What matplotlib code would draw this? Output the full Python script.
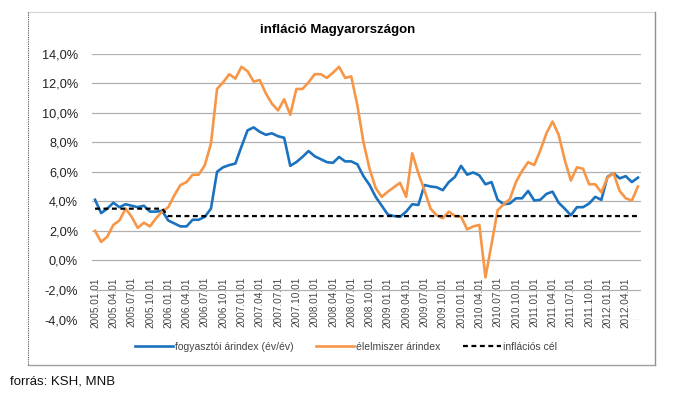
import matplotlib
matplotlib.use("Agg")
import matplotlib.pyplot as plt
from matplotlib.lines import Line2D
import numpy as np

plt.rcParams['font.family'] = ['Liberation Sans', 'DejaVu Sans']

# ---- data ----
years = list(range(2005, 2013))
months = [f"{y}.{m:02d}.01" for y in years for m in range(1, 13)][:90]

cpi = [4.1, 3.2, 3.5, 3.9, 3.6, 3.8, 3.7, 3.6, 3.7, 3.3, 3.3, 3.35,
       2.7, 2.5, 2.3, 2.3, 2.75, 2.75, 2.95, 3.5, 6.0, 6.3, 6.45, 6.55,
       7.7, 8.8, 9.0, 8.7, 8.5, 8.6, 8.4, 8.3, 6.4, 6.65, 7.0, 7.4,
       7.05, 6.85, 6.65, 6.6, 7.0, 6.7, 6.7, 6.5, 5.7, 5.1, 4.3, 3.7,
       3.1, 3.0, 2.95, 3.3, 3.8, 3.75, 5.1, 5.0, 4.95, 4.75, 5.3, 5.65,
       6.4, 5.8, 5.95, 5.75, 5.15, 5.3, 4.1, 3.8, 3.85, 4.2, 4.2, 4.7,
       4.05, 4.1, 4.5, 4.65, 3.9, 3.5, 3.05, 3.6, 3.6, 3.85, 4.3, 4.1,
       5.65, 5.9, 5.55, 5.7, 5.3, 5.6]

food = [2.0, 1.25, 1.6, 2.4, 2.7, 3.5, 2.95, 2.2, 2.55, 2.3, 2.85, 3.3,
        3.6, 4.4, 5.1, 5.3, 5.8, 5.8, 6.45, 7.9, 11.6, 12.05, 12.6, 12.3,
        13.1, 12.8, 12.1, 12.2, 11.3, 10.6, 10.15, 10.9, 9.85, 11.6, 11.6, 12.05,
        12.6, 12.6, 12.35, 12.7, 13.1, 12.35, 12.45, 10.5, 8.0, 6.2, 4.9, 4.3,
        4.65, 4.95, 5.25, 4.3, 7.25, 5.9, 4.75, 3.5, 3.05, 2.85, 3.3, 3.0,
        2.95, 2.1, 2.3, 2.4, -1.15, 1.1, 3.4, 3.8, 4.15, 5.3, 6.05, 6.65,
        6.45, 7.45, 8.6, 9.4, 8.5, 6.8, 5.4, 6.3, 6.2, 5.15, 5.15, 4.6,
        5.6, 5.9, 4.7, 4.2, 4.05, 5.0]

target = [3.5] * 12 + [3.0] * 78

yticks = [-4, -2, 0, 2, 4, 6, 8, 10, 12, 14]
labels = ["fogyasztói árindex (év/év)", "élelmiszer árindex", "inflációs cél"]
title = "infláció Magyarországon"
source = "forrás: KSH, MNB"

# ---- figure ----
fig = plt.figure(figsize=(6.9, 3.94), dpi=100)
ax = fig.add_axes([92/690, 1-319.5/394, (641-92)/690, (319.5-53.5)/394])

x = np.arange(len(months))
l1, = ax.plot(x, cpi, color='#1b72be', lw=1.9, solid_joinstyle='round')
l2, = ax.plot(x, food, color='#f79646', lw=1.9, solid_joinstyle='round')
l3, = ax.plot(x, target, color='black', lw=1.6, linestyle=(0, (2.2, 1.6)))

ax.set_xlim(-0.5, len(months) - 0.5)
ax.set_ylim(-4, 14)
ax.set_yticks(yticks)
ax.set_yticklabels([f"{v:.1f}%".replace('.', ',') for v in yticks], fontsize=9.2, color='#222222')
ax.yaxis.grid(True, color='#b0b0b0', lw=0.9)
ax.set_axisbelow(True)
ax.tick_params(axis='y', length=0, pad=10)

for s in ['left', 'right', 'top']:
    ax.spines[s].set_visible(False)
ax.spines['bottom'].set_position(('data', 0))
ax.spines['bottom'].set_visible(False)
tick_idx = list(range(0, len(months), 3))
ax.set_xticks(tick_idx)
ax.set_xticklabels([months[i] for i in tick_idx], rotation=90, fontsize=7.2, color='#444444',
                   va='top', ha='center')
ax.tick_params(axis='x', length=0, pad=12)

fig.text(338/690, 1-30/394, title, ha='center', va='center', fontsize=9.5, fontweight='bold')

fig.legend([l1, l2, l3], labels, loc='center', bbox_to_anchor=(346/690, 1-347/394), ncol=3,
           frameon=False, fontsize=7.5, handlelength=3.6, columnspacing=2.2, handletextpad=0.2,
           labelcolor='#444444')

# chart frame
fig.add_artist(Line2D([28/690, 655/690], [1-12/394, 1-12/394], transform=fig.transFigure, color='#d8d8d8', lw=0.9))
fig.add_artist(Line2D([655/690, 655/690], [1-12/394, 1-365/394], transform=fig.transFigure, color='#909090', lw=1.0))
fig.add_artist(Line2D([28/690, 655/690], [1-365/394, 1-365/394], transform=fig.transFigure, color='#a0a0a0', lw=1.0))
fig.add_artist(Line2D([28/690, 28/690], [1-12/394, 1-365/394], transform=fig.transFigure, color='#555555', lw=0.8,
                      linestyle=(0, (1, 1))))

fig.text(10/690, 1-381/394, source, ha='left', va='center', fontsize=9.5, color='#111111')

fig.savefig("out.png", dpi=100)
